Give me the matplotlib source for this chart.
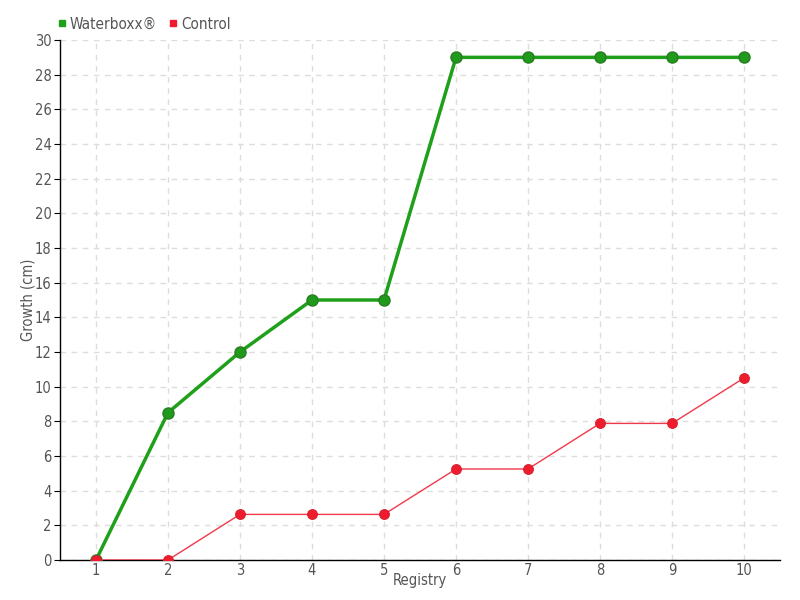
import matplotlib
matplotlib.use("Agg")
import matplotlib.pyplot as plt
from matplotlib.lines import Line2D

registry = [1, 2, 3, 4, 5, 6, 7, 8, 9, 10]
waterboxx = [0, 8.5, 12, 15, 15, 29, 29, 29, 29, 29]
control = [0, 0, 2.63, 2.63, 2.63, 5.25, 5.25, 7.88, 7.88, 10.5]
yticks = list(range(0, 31, 2))

plt.rcParams['font.family'] = ['DejaVu Sans']
plt.rcParams['font.stretch'] = 'condensed'

fig = plt.figure(figsize=(8, 6), dpi=100)
ax = fig.add_axes([0.075, 0.0667, 0.9, 0.8666])

green = '#1fa01a'
red = '#ee1c2e'
ax.plot(registry, waterboxx, color=green, lw=2.5, marker='o', ms=8,
        mfc='#1f9a1a', mec='#2a7d24', mew=1, zorder=3)
ax.plot(registry, control, color='#f0394a', lw=1, marker='o', ms=7,
        mfc=red, mec='#d8202c', mew=0.8, zorder=4)

ax.set_xlim(0.5, 10.5)
ax.set_ylim(0, 30)
ax.set_xticks(registry)
ax.set_yticks(yticks)
ax.grid(True, color='#dddddd', ls=(0, (4, 4)), lw=1)
ax.set_axisbelow(True)
for s in ['top', 'right']:
    ax.spines[s].set_visible(False)
for s in ['left', 'bottom']:
    ax.spines[s].set_color('black')
    ax.spines[s].set_linewidth(1)
ax.tick_params(axis='y', length=4, color='black', labelsize=10.5, labelcolor='#555555', pad=2)
ax.tick_params(axis='x', length=0, labelsize=10.5, labelcolor='#555555', pad=2)
ax.set_xlabel('Registry', fontsize=10.5, color='#555555')
ax.set_ylabel('Growth (cm)', fontsize=10.5, color='#555555')
ax.xaxis.set_label_coords(0.5, -0.026)
ax.yaxis.set_label_coords(-0.034, 0.5)

handles = [Line2D([], [], ls='none', marker='s', ms=5, color='#1fa01a'),
           Line2D([], [], ls='none', marker='s', ms=5, color=red)]
fig.legend(handles, ['Waterboxx®', 'Control'], loc='upper left',
           bbox_to_anchor=(0.054, 0.995), ncol=2, frameon=False, fontsize=11,
           handlelength=0.6, handletextpad=0.2, columnspacing=0.8, labelcolor='#555555')

fig.savefig('out.png', dpi=100)
